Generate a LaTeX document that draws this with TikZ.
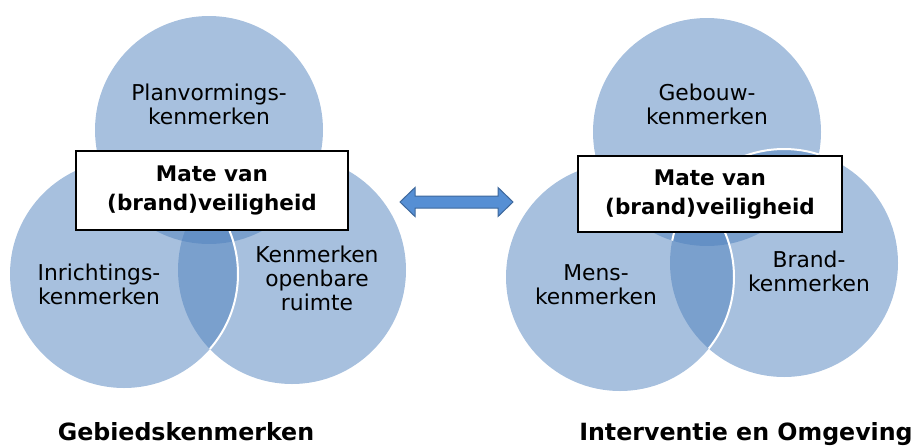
\documentclass[tikz,border=0pt]{standalone}
\usepackage{fontspec}
\setmainfont{DejaVu Sans}
\usepackage{tikz}
\definecolor{vennblauw}{RGB}{79,129,189}
\definecolor{pijlblauw}{RGB}{86,143,212}
\definecolor{pijlrand}{RGB}{62,104,156}

\begin{document}
\begin{tikzpicture}[x=1pt,y=-1pt,
	venn/.style={circle,fill=vennblauw,fill opacity=0.5,minimum size=228pt,inner sep=0pt},
	rand/.style={draw=white,line width=2pt},
	lbl/.style={align=center,font=\fontsize{21.8}{24}\selectfont},
	kader/.style={draw=black,line width=1.2pt,fill=white,align=center,inner sep=0pt,font=\fontsize{21.5}{29}\selectfont\bfseries},
	titel/.style={anchor=base,font=\fontsize{23.7}{28}\selectfont\bfseries}]
	\useasboundingbox (0,0) rectangle (919,445);
	
	% gebied
	\node[venn] (plan) at (209,130) {};
	\node[venn] (inr) at (124,274) {};
	\node[venn] (opb) at (292,270) {};
	\begin{scope}
		\clip (opb.center) circle (114pt);
		\draw[rand] (inr.center) circle (114pt);
	\end{scope}
	
	% interventie
	\node[venn] (geb) at (707,132) {};
	\node[venn] (mens) at (620,277) {};
	\node[venn] (brand) at (784,263) {};
	\begin{scope}
		\clip (brand.center) circle (114pt);
		\draw[rand] (mens.center) circle (114pt);
	\end{scope}
	\begin{scope}
		\clip (geb.center) circle (114pt);
		\draw[rand] (brand.center) circle (114pt);
	\end{scope}
	
	\node[lbl] (tplan) at (209,104) {Planvormings-\\kenmerken};
	\node[lbl] (tinr) at (99,284) {Inrichtings-\\kenmerken};
	\node[lbl] (topb) at (317,278) {Kenmerken\\openbare\\ruimte};
	\node[lbl] (tgeb) at (707,104) {Gebouw-\\kenmerken};
	\node[lbl] (tmens) at (596,285) {Mens-\\kenmerken};
	\node[lbl] (tbrand) at (809,271) {Brand-\\kenmerken};
	
	\node[kader,minimum width=272pt,minimum height=79pt] (mate1) at (212,190.5) {Mate van\\(brand)veiligheid};
	\node[kader,minimum width=264pt,minimum height=76pt] (mate2) at (710,194) {Mate van\\(brand)veiligheid};
	
	% pijl
	\filldraw[fill=pijlblauw,draw=pijlrand,line width=1pt] (400,202) -- (415,187.5) -- (415,196) -- (498,196) -- (498,187.5) -- (513,202) -- (498,216.5) -- (498,208) -- (415,208) -- (415,216.5) -- cycle;
	
	\node[titel] (gebied) at (186,440) {Gebiedskenmerken};
	\node[titel] (omgeving) at (746,440) {Interventie en Omgeving};
\end{tikzpicture}
\end{document}
